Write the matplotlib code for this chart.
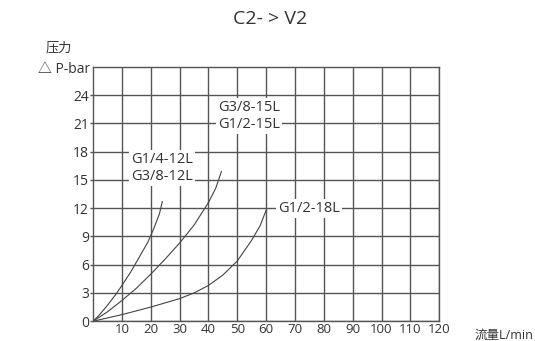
import matplotlib.pyplot as plt

plt.rcParams['font.family'] = ['Open Sans', 'Noto Sans CJK SC', 'DejaVu Sans']

# flow (L/min) vs pressure (bar)
flow_a = [0, 2, 5, 8, 10, 13, 16, 19, 21, 23, 24]
pres_a = [0, 0.6, 1.7, 2.9, 3.8, 5.2, 6.8, 8.4, 9.8, 11.4, 12.7]
flow_b = [0, 5, 10, 15, 20, 25, 30, 35, 40, 42.5, 44.5]
pres_b = [0, 1.0, 2.2, 3.5, 5.0, 6.6, 8.3, 10.2, 12.6, 14.1, 15.9]
flow_c = [0, 10, 20, 30, 35, 40, 45, 50, 55, 58, 60]
pres_c = [0, 0.7, 1.5, 2.4, 3.0, 3.8, 4.9, 6.4, 8.6, 10.2, 11.8]

xticks = list(range(10, 130, 10))
yticks = list(range(0, 27, 3))

fig = plt.figure(figsize=(5.35, 3.41), dpi=100)
ax = fig.add_axes([0.174, 0.058, 0.647, 0.746])
ax.set_xlim(0, 120)
ax.set_ylim(0, 27)
ax.set_xticks(xticks)
ax.set_yticks(yticks)
ax.grid(True, color='#555555', linewidth=1.0)
for s in ax.spines.values():
    s.set_color('#555555')
    s.set_linewidth(1.0)
ax.tick_params(axis='x', length=0, labelsize=9.5, colors='#333333', pad=1.5)
ax.tick_params(axis='y', length=2, width=1, color='#555555', labelsize=10,
               labelcolor='#333333', pad=1)

ax.plot(flow_a, pres_a, color='#444444', lw=0.8)
ax.plot(flow_b, pres_b, color='#444444', lw=0.8)
ax.plot(flow_c, pres_c, color='#444444', lw=0.8)

box = dict(facecolor='white', edgecolor='none', pad=1.5)
ax.text(24, 16.3, 'G1/4-12L\nG3/8-12L', fontsize=10.5, ha='center', va='center',
        color='#333333', bbox=box, linespacing=1.2)
ax.text(54, 21.8, 'G3/8-15L\nG1/2-15L', fontsize=10.5, ha='center', va='center',
        color='#333333', bbox=box, linespacing=1.2)
ax.text(75, 12, 'G1/2-18L', fontsize=10.5, ha='center', va='center',
        color='#333333', bbox=box)

fig.text(0.505, 0.945, 'C2- > V2', fontsize=14, ha='center', va='center', color='#333333')
fig.text(0.11, 0.86, '压力', fontsize=9.5, ha='center', va='center', color='#333333')
fig.text(0.168, 0.795, '△ P-bar', fontsize=10, ha='right', va='center', color='#333333')
fig.text(0.997, 0.018, '流量L/min', fontsize=9, ha='right', va='center', color='#333333')

fig.savefig('out.png', dpi=100)
